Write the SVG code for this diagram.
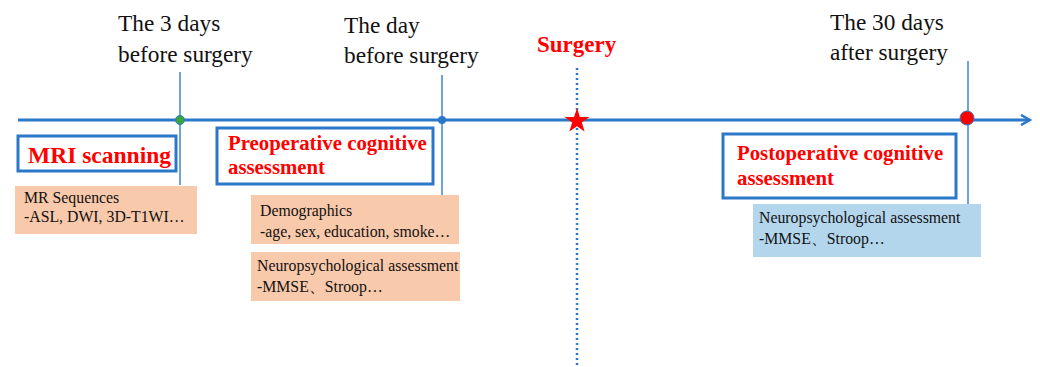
<svg xmlns="http://www.w3.org/2000/svg" width="1040" height="367" viewBox="0 0 1040 367">
<style>
.lbl{font-family:"Liberation Serif",serif;font-size:23.3px;fill:#111}
.hd{font-family:"Liberation Serif",serif;font-weight:bold;fill:#ff0000}
.box{fill:#fff;stroke:#2b78c8;stroke-width:3}
.peach{fill:#f9c9ab}
.blue{fill:#b3d6ec}
.sm{font-family:"Liberation Serif",serif;font-size:15.8px;fill:#111}
.tick{stroke:#3c86d4;stroke-width:1.5;fill:none}
</style>
<defs>
<marker id="arr" markerWidth="12" markerHeight="12" refX="10" refY="6" orient="auto" markerUnits="userSpaceOnUse">
<path d="M1,1 L10,6 L1,11" fill="none" stroke="#2b78c8" stroke-width="2.5"/>
</marker>
</defs>
<g id="connectors">
<line x1="18" y1="120" x2="1030" y2="120" stroke="#2b78c8" stroke-width="3" marker-end="url(#arr)"/>
<line class="tick" x1="180" y1="72" x2="180" y2="185"/>
<line class="tick" x1="442" y1="75" x2="442" y2="195"/>
<line class="tick" x1="968" y1="61" x2="968" y2="204"/>
<line x1="577" y1="68" x2="577" y2="367" stroke="#2b78c8" stroke-width="2.5" stroke-dasharray="2,3"/>
</g>
<g id="t3days">
<text class="lbl" x="118" y="31">The 3 days</text>
<text class="lbl" x="118" y="62">before surgery</text>
<circle cx="180" cy="120" r="4.5" fill="#3aa53a" stroke="#2b78c8" stroke-width="1"/>
</g>
<g id="tday">
<text class="lbl" x="344" y="33">The day</text>
<text class="lbl" x="344" y="63">before surgery</text>
<circle cx="442" cy="120" r="4" fill="#2b78c8"/>
</g>
<g id="surgery">
<text class="hd" x="537" y="52" font-size="23">Surgery</text>
<polygon points="577,108 579.9,116.9 589.4,117 581.8,122.6 584.6,131.6 577,126.2 569.4,131.6 572.2,122.6 564.6,117 574.1,116.9" fill="#ff0000"/>
</g>
<g id="t30days">
<text class="lbl" x="830" y="30">The 30 days</text>
<text class="lbl" x="830" y="60">after surgery</text>
<circle cx="967" cy="118" r="7" fill="#ff0000" stroke="#2b78c8" stroke-width="1"/>
</g>
<g id="mri">
<rect class="box" x="18" y="136" width="158" height="35"/>
<text class="hd" x="28" y="163" font-size="23.5">MRI scanning</text>
</g>
<g id="mrseq">
<rect class="peach" x="15" y="186" width="182" height="48"/>
<text class="sm" x="24" y="203" font-size="13.6">MR Sequences</text>
<text class="sm" x="24" y="222" font-size="13.6">-ASL, DWI, 3D-T1WI…</text>
</g>
<g id="preop">
<rect class="box" x="217" y="128" width="216" height="56"/>
<text class="hd" x="228" y="150" font-size="20.8">Preoperative cognitive</text>
<text class="hd" x="228" y="174" font-size="20.8">assessment</text>
</g>
<g id="demo">
<rect class="peach" x="251" y="195" width="208" height="49"/>
<text class="sm" x="260" y="216" font-size="15.6">Demographics</text>
<text class="sm" x="260" y="237" font-size="15.6">-age, sex, education, smoke…</text>
</g>
<g id="neuro1">
<rect class="peach" x="251" y="252" width="209" height="49"/>
<text class="sm" x="257" y="271">Neuropsychological assessment</text>
<text class="sm" x="257" y="292">-MMSE、Stroop…</text>
</g>
<g id="postop">
<rect class="box" x="723" y="134" width="233" height="64"/>
<text class="hd" x="737" y="160" font-size="20.8">Postoperative cognitive</text>
<text class="hd" x="737" y="185" font-size="20.8">assessment</text>
</g>
<g id="neuro2">
<rect class="blue" x="753" y="204" width="228" height="53"/>
<text class="sm" x="759" y="223">Neuropsychological assessment</text>
<text class="sm" x="759" y="244">-MMSE、Stroop…</text>
</g>
</svg>
